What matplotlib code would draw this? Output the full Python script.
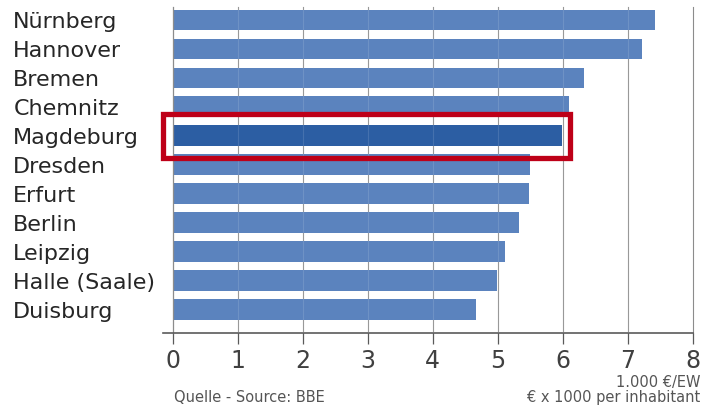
import numpy as np
import matplotlib.pyplot as plt
from matplotlib.patches import Rectangle

# -----------------------------
# данные
# -----------------------------
cities = ["Nürnberg", "Hannover", "Bremen", "Chemnitz", "Magdeburg", "Dresden",
          "Erfurt", "Berlin", "Leipzig", "Halle (Saale)", "Duisburg"]
values = [7.41, 7.21, 6.32, 6.10, 5.98, 5.50, 5.48, 5.33, 5.11, 4.99, 4.66]
highlight = "Magdeburg"
x_ticks = [0, 1, 2, 3, 4, 5, 6, 7, 8]

source_text = "Quelle - Source: BBE"
unit_text = "1.000 €/EW\n€ x 1000 per inhabitant"

bar_color = "#5B83BE"
hl_color = "#2C5EA3"
box_color = "#BE0018"
grid_color = "#8C8C8C"

plt.rcParams['font.family'] = ['DejaVu Sans']

fig = plt.figure(figsize=(7.11, 4.09), dpi=100)
ax = fig.add_axes([0.2429, 0.1851, 0.9747 - 0.2429, 0.9829 - 0.1851])

y = np.arange(len(cities))
colors = [hl_color if c == highlight else bar_color for c in cities]
ax.barh(y, values, height=0.72, color=colors, zorder=2)

ax.set_xlim(0, 8)
ax.set_ylim(len(cities) - 0.185, -0.45)

# сетка (рисуем вручную, чтобы линия на 8 не обрезалась)
ax.set_xticks(x_ticks)
for t in x_ticks[1:]:
    ax.axvline(t, color=grid_color, linewidth=0.8, zorder=1, clip_on=False)
    # слабые линии сетки поверх столбцов
    ax.axvline(t, color="white", alpha=0.12, linewidth=0.8, zorder=3)

for s in ["top", "right"]:
    ax.spines[s].set_visible(False)
ax.spines["left"].set_color(grid_color)
ax.spines["left"].set_linewidth(0.9)
ax.spines["bottom"].set_color("#5A5A5A")
ax.spines["bottom"].set_linewidth(1.2)
ax.spines["bottom"].set_bounds(-0.15, 8)

ax.tick_params(axis="x", direction="out", length=8, width=0.9, color="#5A5A5A",
               labelsize=17, labelcolor="#404040", pad=3)

ax.set_yticks(y)
ax.set_yticklabels(cities)
ax.tick_params(axis="y", length=0, pad=114.8, labelsize=16, labelcolor="#262626")
for lbl in ax.get_yticklabels():
    lbl.set_horizontalalignment("left")

# красная рамка вокруг Magdeburg
i = cities.index(highlight)
ax.add_patch(Rectangle((-0.15, i - 0.75), values[i] + 0.28, 1.5, fill=False,
                       edgecolor=box_color, linewidth=3.8, zorder=4, clip_on=False))

fig.text(174 / 711, 1 - 397 / 409, source_text, fontsize=10.5, color="#555555",
         ha="left", va="center")
fig.text(700 / 711, 1 - 390 / 409, unit_text, fontsize=10.5, color="#555555",
         ha="right", va="center", linespacing=0.95, multialignment="right")

fig.savefig("out.png", dpi=100, facecolor="white")
